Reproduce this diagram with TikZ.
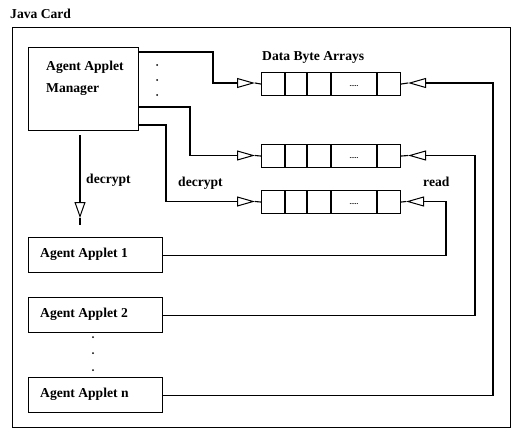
\documentclass[tikz,border=0pt]{standalone}
\usepackage{fontspec}
\setmainfont{Liberation Serif}
\usetikzlibrary{arrows.meta}
\begin{document}
\begin{tikzpicture}[x=1pt,y=-1pt,
  frame/.style={line width=1pt},
  box/.style={draw,line width=1.1pt,minimum width=134pt,minimum height=35pt,inner sep=0pt,anchor=north west},
  mgrbox/.style={draw,line width=1.1pt,minimum width=110pt,minimum height=83pt,inner sep=0pt,anchor=north west},
  arrbox/.style={draw,line width=1.1pt,minimum width=139pt,minimum height=23pt,inner sep=0pt,anchor=north west},
  lbl/.style={font=\fontsize{13.6}{15}\selectfont\bfseries,inner sep=0pt,anchor=west},
  conn/.style={line width=1.1pt},
  tri/.style={-{Triangle[open,length=18pt,width=10pt,line width=1pt]}},
  dotmark/.style={fill=black,circle,inner sep=0pt,minimum size=2pt}
]
\useasboundingbox (0,0) rectangle (513,436);

% outer frame
\draw[frame] (12,28) rectangle (510,427);
\node[lbl] (title) at (10,14) {Java Card};

% manager
\node[mgrbox] (mgr) at (28,47) {};
\node[lbl] (mgrt1) at (46,67) {Agent Applet};
\node[lbl] (mgrt2) at (46,90) {Manager};
\node[dotmark] (md1) at (157,65) {};
\node[dotmark] (md2) at (157,80) {};
\node[dotmark] (md3) at (157,95) {};

% byte arrays
\node[lbl] (dba) at (262,57) {Data Byte Arrays};
\foreach \n/\y in {arr1/72,arr2/144,arr3/190}{
  \node[arrbox] (\n) at (261,\y) {};
  \foreach \d in {24,46,70,116}
    \draw[conn] (261+\d,\y) -- ++(0,23);
  \node[font=\fontsize{7}{7}\selectfont\bfseries,inner sep=0pt] (\n dots) at (354,\y+14) {.....};
}

% applets
\node[box] (ap1) at (28,237) {};
\node[lbl] (ap1t) at (40,254.5) {Agent Applet 1};
\node[box] (ap2) at (28,297) {};
\node[lbl] (ap2t) at (40,314.5) {Agent Applet 2};
\node[box] (apn) at (28,377) {};
\node[lbl] (apnt) at (40,394.5) {Agent Applet n};
\node[dotmark] (ad1) at (93,337) {};
\node[dotmark] (ad2) at (93,353) {};
\node[dotmark] (ad3) at (93,370) {};

% decrypt down arrow
\coordinate (dstart) at (80,135);
\coordinate (dtip) at (80,218);
\coordinate (dend) at (80,225);
\draw[conn,-{Triangle[open,length=16pt,width=11pt,line width=1pt]}] (dstart) -- (dtip);
\draw[conn] (dtip) -- (dend);
\node[lbl] (dec1) at (86,180) {decrypt};
\node[lbl] (dec2) at (178,183) {decrypt};
\node[lbl] (rd) at (423,182) {read};

% manager to arrays
\coordinate (l1) at (255,83);
\coordinate (l2) at (255,155.5);
\coordinate (l3) at (255,201.5);
\draw[conn,tri] (mgr.east |- 0,52) -| (213,83) -- (l1);
\draw[conn] (l1) -- (arr1.west);
\draw[conn,tri] (mgr.east |- 0,107) -| (190,155.5) -- (l2);
\draw[conn] (l2) -- (arr2.west);
\draw[conn,tri] (mgr.east |- 0,125) -| (166,201.5) -- (l3);
\draw[conn] (l3) -- (arr3.west);

% applets to arrays (read)
\coordinate (r1) at (408,83);
\coordinate (r2) at (408,155.5);
\coordinate (r3) at (406,201.5);
\draw[conn,tri] (apn.east) -| (493,83) -- (r1);
\draw[conn] (r1) -- (arr1.east);
\draw[conn,tri] (ap2.east) -| (475,155.5) -- (r2);
\draw[conn] (r2) -- (arr2.east);
\draw[conn,tri] (ap1.east) -| (446,201.5) -- (r3);
\draw[conn] (r3) -- (arr3.east);
\end{tikzpicture}
\end{document}
